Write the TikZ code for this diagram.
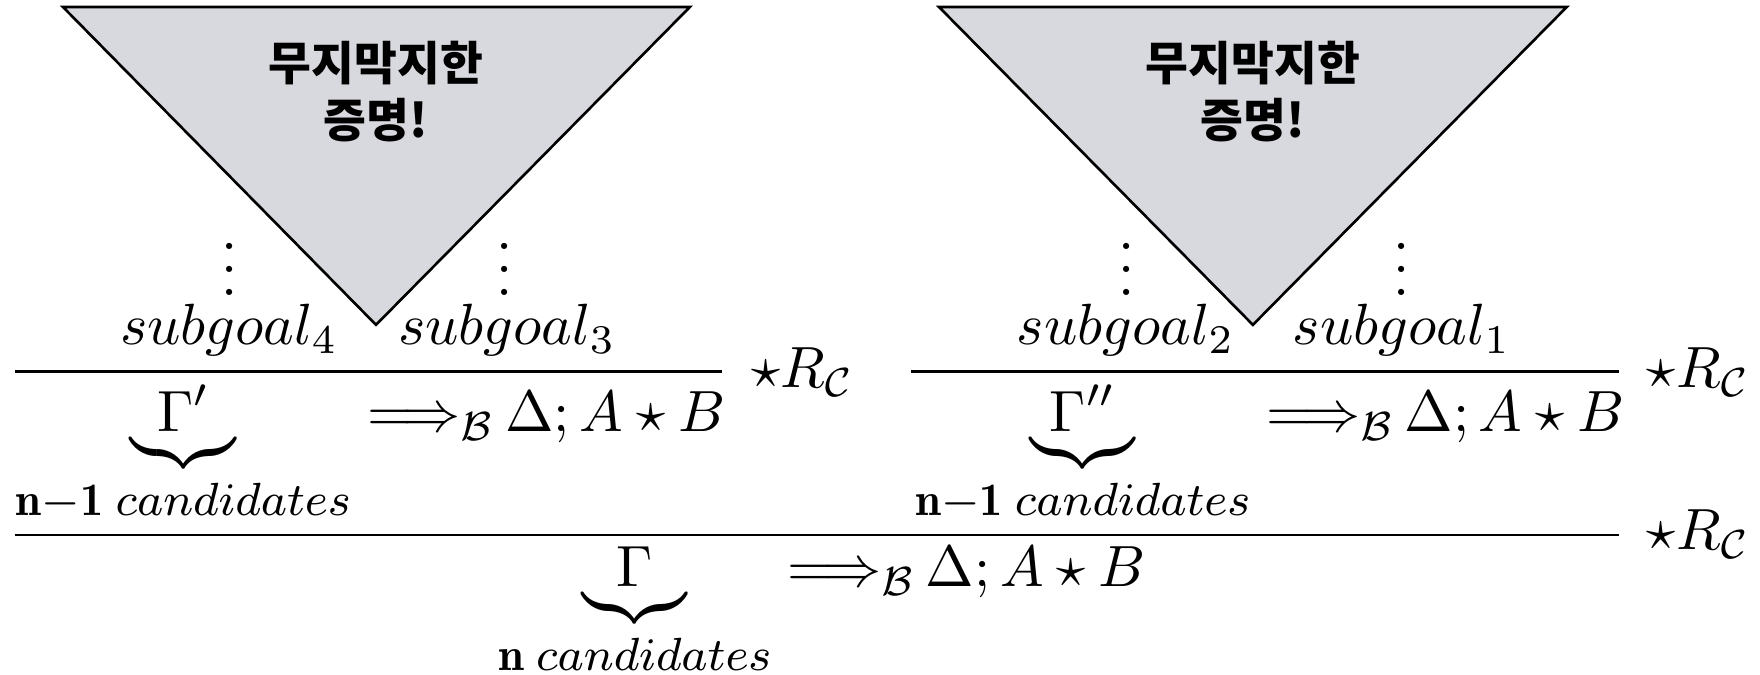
\documentclass[tikz,border=0pt]{standalone}
\usepackage{amsmath,amssymb}
\usepackage{fontspec}
\newfontfamily\kofont{Noto Sans CJK KR}
\usetikzlibrary{positioning,calc}
\definecolor{ink}{HTML}{000000}
\definecolor{blobgray}{HTML}{D8D8DF}
\tikzset{
  blob/.style={draw=ink,fill=blobgray,line width=0.45pt,line join=miter},
  blobtext/.style={align=center,inner sep=0pt,
                   font=\kofont\bfseries\fontsize{8}{9.8}\selectfont},
  goal/.style={inner sep=0pt,anchor=base},
  seq/.style={inner sep=0pt,anchor=base west},
  rulename/.style={inner sep=0pt,anchor=base west},
  inferline/.style={draw=ink,line width=0.5pt}
}
\newcommand{\cands}[1]{\mbox{\footnotesize$#1\hspace{2.1pt}candidates$}}
\newcommand{\seqto}{\Longrightarrow_{\mathcal{B}}\mkern-2mu}

\begin{document}
\begin{tikzpicture}[x=1cm,y=1cm]
  \useasboundingbox (0,0) rectangle (10.63,4.076);
  % the two unfinished proofs
  \draw[blob] (0.380,4.034) -- (4.167,4.034) -- (2.271,2.114) -- cycle;
  \draw[blob] (5.671,4.034) -- (9.463,4.034) -- (7.567,2.114) -- cycle;
  \node[blobtext] (proofL) at (2.271,3.52) {무지막지한\\증명!};
  \node[blobtext] (proofR) at (7.567,3.52) {무지막지한\\증명!};
  % subgoals
  \node[goal] (sg4) at (1.383,1.993) {$subgoal_4$};
  \node[goal] (sg3) at (3.062,1.993) {$subgoal_3$};
  \node[goal] (sg2) at (6.800,1.993) {$subgoal_2$};
  \node[goal] (sg1) at (8.467,1.993) {$subgoal_1$};
  \node[goal] (dt4) at (1.389,2.289) {$\vdots$};
  \node[goal] (dt3) at (3.050,2.289) {$\vdots$};
  \node[goal] (dt2) at (6.806,2.289) {$\vdots$};
  \node[goal] (dt1) at (8.467,2.289) {$\vdots$};
  % upper inferences
  \coordinate (ruleLa) at (0.088,1.830);
  \coordinate (ruleLb) at (4.360,1.830);
  \coordinate (ruleRa) at (5.502,1.830);
  \coordinate (ruleRb) at (9.777,1.830);
  \draw[inferline] (ruleLa) -- (ruleLb);
  \draw[inferline] (ruleRa) -- (ruleRb);
  \node[rulename] (nameL) at (4.529,1.733) {$\star R_{\mathcal{C}}$};
  \node[rulename] (nameR) at (9.940,1.733) {$\star R_{\mathcal{C}}$};
  \node[seq] (concL) at (0.088,1.468)
    {$\underbrace{\Gamma'}_{\cands{\mathbf{n}{-}\mathbf{1}}}
      \seqto \Delta; A \star B$};
  \node[seq] (concR) at (5.520,1.468)
    {$\underbrace{\Gamma''}_{\cands{\mathbf{n}{-}\mathbf{1}}}
      \seqto \Delta; A \star B$};
  % final inference
  \coordinate (ruleBa) at (0.088,0.845);
  \coordinate (ruleBb) at (9.777,0.845);
  \draw[inferline] (ruleBa) -- (ruleBb);
  \node[rulename] (nameB) at (9.940,0.755) {$\star R_{\mathcal{C}}$};
  \node[seq] (concB) at (3.001,0.531)
    {$\underbrace{\Gamma}_{\cands{\mathbf{n}}}
      \seqto \Delta; A \star B$};
\end{tikzpicture}
\end{document}
